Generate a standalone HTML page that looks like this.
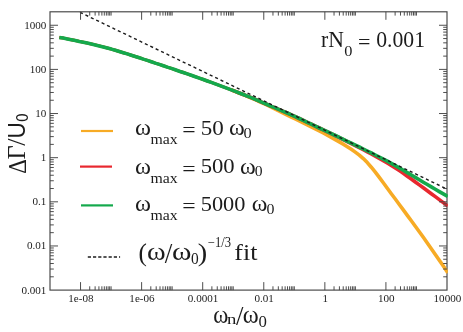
<!DOCTYPE html>
<html><head><meta charset="utf-8"><style>
html,body{margin:0;padding:0;background:#fff;}
body{width:463px;height:332px;overflow:hidden;}
svg{display:block;}
</style></head><body>
<svg width="463" height="332" viewBox="0 0 463 332">
<rect x="0" y="0" width="463" height="332" fill="#fff"/>
<rect x="50.0" y="11.8" width="397.0" height="278.3" fill="none" stroke="#454545" stroke-width="1.15"/>
<clipPath id="c"><rect x="50.0" y="11.8" width="397.8" height="278.3"/></clipPath>
<g clip-path="url(#c)">
<path d="M59.3,37.4 L63.3,38.1 L67.3,38.9 L71.3,39.7 L75.3,40.5 L79.3,41.4 L83.3,42.2 L87.3,43.1 L91.3,44.0 L95.3,44.9 L99.3,45.9 L103.3,46.9 L107.3,48.0 L111.3,49.1 L115.3,50.3 L119.3,51.5 L123.3,52.7 L127.3,53.9 L131.3,55.2 L135.3,56.5 L139.3,57.7 L143.3,59.1 L147.3,60.4 L151.3,61.7 L155.3,63.1 L159.3,64.4 L163.3,65.7 L167.3,67.1 L171.3,68.4 L175.3,69.8 L179.3,71.2 L183.3,72.5 L187.3,73.9 L191.3,75.3 L195.3,76.7 L199.3,78.1 L203.3,79.5 L207.3,81.0 L211.3,82.4 L215.3,83.9 L219.3,85.3 L223.3,86.9 L227.3,88.4 L231.3,89.9" fill="none" stroke="#f7ab25" stroke-width="3.0" stroke-linejoin="round"/><path d="M231.3,89.9 L235.3,91.5 L239.3,93.1 L243.3,94.7 L247.3,96.3 L251.3,98.0 L255.3,99.7 L259.3,101.5 L263.3,103.3 L267.3,105.2 L271.3,107.1 L275.3,109.1 L279.3,111.1 L283.3,113.1 L287.3,115.1 L291.3,117.0 L295.3,119.0 L299.3,121.0 L303.3,123.0 L307.3,124.9 L311.3,127.0 L315.3,129.0 L319.3,131.0 L323.3,133.0 L327.3,135.1 L331.3,137.3 L335.3,139.6 L339.3,141.9 L343.3,144.3 L347.3,146.7 L351.3,149.3 L355.3,152.1 L359.3,155.1 L363.3,158.6 L367.3,162.6 L371.3,167.2 L375.3,172.1 L379.3,177.4 L383.3,182.8 L387.3,188.3 L391.3,193.7 L395.3,199.0 L399.3,204.5 L403.3,209.9 L407.3,215.4 L411.3,220.8 L415.3,226.3 L419.3,231.7 L423.3,237.3 L427.3,243.0 L431.3,248.7 L435.3,254.5 L439.3,260.3 L443.3,266.1 L447.3,272.1 L447.8,272.8" fill="none" stroke="#f7ab25" stroke-width="3.6" stroke-linejoin="round"/>
<path d="M59.3,37.4 L63.3,38.1 L67.3,38.9 L71.3,39.7 L75.3,40.5 L79.3,41.4 L83.3,42.2 L87.3,43.1 L91.3,44.0 L95.3,44.9 L99.3,45.9 L103.3,46.9 L107.3,48.0 L111.3,49.1 L115.3,50.3 L119.3,51.5 L123.3,52.7 L127.3,53.9 L131.3,55.2 L135.3,56.5 L139.3,57.7 L143.3,59.1 L147.3,60.4 L151.3,61.7 L155.3,63.1 L159.3,64.4 L163.3,65.7 L167.3,67.1 L171.3,68.4 L175.3,69.8 L179.3,71.2 L183.3,72.5 L187.3,73.9 L191.3,75.3 L195.3,76.7 L199.3,78.1 L203.3,79.5 L207.3,81.0 L211.3,82.4 L215.3,83.9 L219.3,85.4 L223.3,86.9 L227.3,88.4 L231.3,89.9" fill="none" stroke="#e8282f" stroke-width="3.0" stroke-linejoin="round"/><path d="M231.3,89.9 L235.3,91.4 L239.3,93.0 L243.3,94.5 L247.3,96.1 L251.3,97.7 L255.3,99.4 L259.3,101.1 L263.3,102.8 L267.3,104.5 L271.3,106.3 L275.3,107.9 L279.3,109.6 L283.3,111.3 L287.3,113.0 L291.3,114.8 L295.3,116.6 L299.3,118.5 L303.3,120.4 L307.3,122.3 L311.3,124.2 L315.3,126.1 L319.3,128.0 L323.3,129.9 L327.3,131.8 L331.3,133.7 L335.3,135.7 L339.3,137.6 L343.3,139.6 L347.3,141.6 L351.3,143.6 L355.3,145.6 L359.3,147.6 L363.3,149.7 L367.3,151.8 L371.3,153.9 L375.3,156.1 L379.3,158.4 L383.3,160.6 L387.3,163.0 L391.3,165.5 L395.3,168.0 L399.3,170.6 L403.3,173.3 L407.3,176.2 L411.3,179.0 L415.3,182.0 L419.3,184.9 L423.3,187.8 L427.3,190.7 L431.3,193.7 L435.3,196.6 L439.3,199.6 L443.3,202.6 L447.3,205.6 L447.8,206.0" fill="none" stroke="#e8282f" stroke-width="3.6" stroke-linejoin="round"/>
<path d="M59.3,37.4 L63.3,38.1 L67.3,38.9 L71.3,39.7 L75.3,40.5 L79.3,41.4 L83.3,42.2 L87.3,43.1 L91.3,44.0 L95.3,44.9 L99.3,45.9 L103.3,46.9 L107.3,48.0 L111.3,49.1 L115.3,50.3 L119.3,51.5 L123.3,52.7 L127.3,53.9 L131.3,55.2 L135.3,56.5 L139.3,57.7 L143.3,59.1 L147.3,60.4 L151.3,61.7 L155.3,63.1 L159.3,64.4 L163.3,65.7 L167.3,67.1 L171.3,68.4 L175.3,69.8 L179.3,71.2 L183.3,72.5 L187.3,73.9 L191.3,75.3 L195.3,76.7 L199.3,78.1 L203.3,79.5 L207.3,81.0 L211.3,82.4 L215.3,83.9 L219.3,85.4 L223.3,86.9 L227.3,88.4 L231.3,89.9 L235.3,91.4 L239.3,93.0 L243.3,94.5 L247.3,96.1 L251.3,97.7 L255.3,99.4 L259.3,101.1 L263.3,102.8 L267.3,104.5 L271.3,106.3 L275.3,107.9 L279.3,109.6 L283.3,111.3 L287.3,113.0 L291.3,114.8 L295.3,116.6 L299.3,118.5 L303.3,120.4 L307.3,122.3 L311.3,124.2 L315.3,126.1 L319.3,128.0 L323.3,129.8 L327.3,131.7 L331.3,133.6 L335.3,135.5 L339.3,137.4 L343.3,139.4 L347.3,141.3 L351.3,143.2 L355.3,145.1 L359.3,147.0 L363.3,149.0 L367.3,151.0 L371.3,152.9 L375.3,155.0 L379.3,157.0 L383.3,159.1 L387.3,161.2 L391.3,163.4 L395.3,165.6 L399.3,167.9 L403.3,170.2 L407.3,172.6 L411.3,175.0 L415.3,177.4 L419.3,179.8 L423.3,182.2 L427.3,184.5 L431.3,186.9 L435.3,189.2 L439.3,191.6 L443.3,193.9 L447.3,196.2 L447.8,196.5" fill="none" stroke="#14a94c" stroke-width="3.6" stroke-linejoin="round"/>
<path d="M80,12.3 L446,188.6" stroke="#1c1c1c" stroke-width="1.4" stroke-dasharray="3.1,2.9" fill="none"/>
</g>
<path d="M80.54,290.1 v-8.0 M80.54,11.8 v8.0 M89.73,290.1 v-3.8 M89.73,11.8 v3.8 M95.11,290.1 v-3.8 M95.11,11.8 v3.8 M98.92,290.1 v-3.8 M98.92,11.8 v3.8 M101.88,290.1 v-3.8 M101.88,11.8 v3.8 M104.30,290.1 v-3.8 M104.30,11.8 v3.8 M106.35,290.1 v-3.8 M106.35,11.8 v3.8 M108.12,290.1 v-3.8 M108.12,11.8 v3.8 M109.68,290.1 v-3.8 M109.68,11.8 v3.8 M111.08,290.1 v-3.8 M111.08,11.8 v3.8 M141.62,290.1 v-8.0 M141.62,11.8 v8.0 M150.81,290.1 v-3.8 M150.81,11.8 v3.8 M156.19,290.1 v-3.8 M156.19,11.8 v3.8 M160.00,290.1 v-3.8 M160.00,11.8 v3.8 M162.96,290.1 v-3.8 M162.96,11.8 v3.8 M165.38,290.1 v-3.8 M165.38,11.8 v3.8 M167.42,290.1 v-3.8 M167.42,11.8 v3.8 M169.19,290.1 v-3.8 M169.19,11.8 v3.8 M170.76,290.1 v-3.8 M170.76,11.8 v3.8 M172.15,290.1 v-3.8 M172.15,11.8 v3.8 M202.69,290.1 v-8.0 M202.69,11.8 v8.0 M211.89,290.1 v-3.8 M211.89,11.8 v3.8 M217.26,290.1 v-3.8 M217.26,11.8 v3.8 M221.08,290.1 v-3.8 M221.08,11.8 v3.8 M224.04,290.1 v-3.8 M224.04,11.8 v3.8 M226.46,290.1 v-3.8 M226.46,11.8 v3.8 M228.50,290.1 v-3.8 M228.50,11.8 v3.8 M230.27,290.1 v-3.8 M230.27,11.8 v3.8 M231.83,290.1 v-3.8 M231.83,11.8 v3.8 M233.23,290.1 v-3.8 M233.23,11.8 v3.8 M263.77,290.1 v-8.0 M263.77,11.8 v8.0 M272.96,290.1 v-3.8 M272.96,11.8 v3.8 M278.34,290.1 v-3.8 M278.34,11.8 v3.8 M282.16,290.1 v-3.8 M282.16,11.8 v3.8 M285.11,290.1 v-3.8 M285.11,11.8 v3.8 M287.53,290.1 v-3.8 M287.53,11.8 v3.8 M289.58,290.1 v-3.8 M289.58,11.8 v3.8 M291.35,290.1 v-3.8 M291.35,11.8 v3.8 M292.91,290.1 v-3.8 M292.91,11.8 v3.8 M294.31,290.1 v-3.8 M294.31,11.8 v3.8 M324.85,290.1 v-8.0 M324.85,11.8 v8.0 M334.04,290.1 v-3.8 M334.04,11.8 v3.8 M339.42,290.1 v-3.8 M339.42,11.8 v3.8 M343.23,290.1 v-3.8 M343.23,11.8 v3.8 M346.19,290.1 v-3.8 M346.19,11.8 v3.8 M348.61,290.1 v-3.8 M348.61,11.8 v3.8 M350.65,290.1 v-3.8 M350.65,11.8 v3.8 M352.43,290.1 v-3.8 M352.43,11.8 v3.8 M353.99,290.1 v-3.8 M353.99,11.8 v3.8 M355.38,290.1 v-3.8 M355.38,11.8 v3.8 M385.92,290.1 v-8.0 M385.92,11.8 v8.0 M395.12,290.1 v-3.8 M395.12,11.8 v3.8 M400.49,290.1 v-3.8 M400.49,11.8 v3.8 M404.31,290.1 v-3.8 M404.31,11.8 v3.8 M407.27,290.1 v-3.8 M407.27,11.8 v3.8 M409.69,290.1 v-3.8 M409.69,11.8 v3.8 M411.73,290.1 v-3.8 M411.73,11.8 v3.8 M413.50,290.1 v-3.8 M413.50,11.8 v3.8 M415.06,290.1 v-3.8 M415.06,11.8 v3.8 M416.46,290.1 v-3.8 M416.46,11.8 v3.8 M50.0,276.81 h3.8 M447.0,276.81 h-3.8 M50.0,269.04 h3.8 M447.0,269.04 h-3.8 M50.0,263.53 h3.8 M447.0,263.53 h-3.8 M50.0,259.25 h3.8 M447.0,259.25 h-3.8 M50.0,255.75 h3.8 M447.0,255.75 h-3.8 M50.0,252.80 h3.8 M447.0,252.80 h-3.8 M50.0,250.24 h3.8 M447.0,250.24 h-3.8 M50.0,247.98 h3.8 M447.0,247.98 h-3.8 M50.0,245.96 h8.0 M447.0,245.96 h-8.0 M50.0,232.67 h3.8 M447.0,232.67 h-3.8 M50.0,224.90 h3.8 M447.0,224.90 h-3.8 M50.0,219.39 h3.8 M447.0,219.39 h-3.8 M50.0,215.11 h3.8 M447.0,215.11 h-3.8 M50.0,211.61 h3.8 M447.0,211.61 h-3.8 M50.0,208.66 h3.8 M447.0,208.66 h-3.8 M50.0,206.10 h3.8 M447.0,206.10 h-3.8 M50.0,203.84 h3.8 M447.0,203.84 h-3.8 M50.0,201.82 h8.0 M447.0,201.82 h-8.0 M50.0,188.53 h3.8 M447.0,188.53 h-3.8 M50.0,180.76 h3.8 M447.0,180.76 h-3.8 M50.0,175.25 h3.8 M447.0,175.25 h-3.8 M50.0,170.97 h3.8 M447.0,170.97 h-3.8 M50.0,167.47 h3.8 M447.0,167.47 h-3.8 M50.0,164.52 h3.8 M447.0,164.52 h-3.8 M50.0,161.96 h3.8 M447.0,161.96 h-3.8 M50.0,159.70 h3.8 M447.0,159.70 h-3.8 M50.0,157.68 h8.0 M447.0,157.68 h-8.0 M50.0,144.39 h3.8 M447.0,144.39 h-3.8 M50.0,136.62 h3.8 M447.0,136.62 h-3.8 M50.0,131.11 h3.8 M447.0,131.11 h-3.8 M50.0,126.83 h3.8 M447.0,126.83 h-3.8 M50.0,123.33 h3.8 M447.0,123.33 h-3.8 M50.0,120.38 h3.8 M447.0,120.38 h-3.8 M50.0,117.82 h3.8 M447.0,117.82 h-3.8 M50.0,115.56 h3.8 M447.0,115.56 h-3.8 M50.0,113.54 h8.0 M447.0,113.54 h-8.0 M50.0,100.25 h3.8 M447.0,100.25 h-3.8 M50.0,92.48 h3.8 M447.0,92.48 h-3.8 M50.0,86.97 h3.8 M447.0,86.97 h-3.8 M50.0,82.69 h3.8 M447.0,82.69 h-3.8 M50.0,79.19 h3.8 M447.0,79.19 h-3.8 M50.0,76.24 h3.8 M447.0,76.24 h-3.8 M50.0,73.68 h3.8 M447.0,73.68 h-3.8 M50.0,71.42 h3.8 M447.0,71.42 h-3.8 M50.0,69.40 h8.0 M447.0,69.40 h-8.0 M50.0,56.11 h3.8 M447.0,56.11 h-3.8 M50.0,48.34 h3.8 M447.0,48.34 h-3.8 M50.0,42.83 h3.8 M447.0,42.83 h-3.8 M50.0,38.55 h3.8 M447.0,38.55 h-3.8 M50.0,35.05 h3.8 M447.0,35.05 h-3.8 M50.0,32.10 h3.8 M447.0,32.10 h-3.8 M50.0,29.54 h3.8 M447.0,29.54 h-3.8 M50.0,27.28 h3.8 M447.0,27.28 h-3.8 M50.0,25.26 h8.0 M447.0,25.26 h-8.0" stroke="#454545" stroke-width="0.95" fill="none"/>
<path d="M81,131 H113" stroke="#f7ab25" stroke-width="2.2"/>
<path d="M80,166.6 H112" stroke="#e8282f" stroke-width="2.2"/>
<path d="M81,205.4 H113" stroke="#14a94c" stroke-width="2.2"/>
<path d="M87.8,257.0 H120.1" stroke="#1c1c1c" stroke-width="1.7" stroke-dasharray="3.2,2.0"/>
<filter id="ga" filterUnits="userSpaceOnUse" x="0" y="0" width="463" height="332"><feOffset dx="0" dy="0"/></filter><g font-family="Liberation Serif, serif" fill="#1c1c1c" filter="url(#ga)">
<text transform="translate(46.4,293.50) scale(1.08,1)" font-size="10.3" text-anchor="end">0.001</text>
<text transform="translate(46.4,249.36) scale(1.08,1)" font-size="10.3" text-anchor="end">0.01</text>
<text transform="translate(46.4,205.22) scale(1.08,1)" font-size="10.3" text-anchor="end">0.1</text>
<text transform="translate(46.4,161.08) scale(1.08,1)" font-size="10.3" text-anchor="end">1</text>
<text transform="translate(46.4,116.94) scale(1.08,1)" font-size="10.3" text-anchor="end">10</text>
<text transform="translate(46.4,72.80) scale(1.08,1)" font-size="10.3" text-anchor="end">100</text>
<text transform="translate(46.4,28.66) scale(1.08,1)" font-size="10.3" text-anchor="end">1000</text>
<text transform="translate(80.94,301.6) scale(1.08,1)" font-size="10.3" text-anchor="middle">1e-08</text>
<text transform="translate(142.02,301.6) scale(1.08,1)" font-size="10.3" text-anchor="middle">1e-06</text>
<text transform="translate(203.09,301.6) scale(1.08,1)" font-size="10.3" text-anchor="middle">0.0001</text>
<text transform="translate(264.17,301.6) scale(1.08,1)" font-size="10.3" text-anchor="middle">0.01</text>
<text transform="translate(325.25,301.6) scale(1.08,1)" font-size="10.3" text-anchor="middle">1</text>
<text transform="translate(386.32,301.6) scale(1.08,1)" font-size="10.3" text-anchor="middle">100</text>
<text transform="translate(447.40,301.6) scale(1.08,1)" font-size="10.3" text-anchor="middle">10000</text>
<text transform="translate(134.97,135.27) scale(1.067,1)" font-family="Liberation Serif" font-size="22.71">ω</text>
<text transform="translate(150.48,144.00) scale(1.042,1)" font-family="Liberation Serif" font-size="15.20">max</text>
<text transform="translate(182.35,137.00) scale(1.159,1)" font-family="Liberation Serif" font-size="20.50">=</text>
<text transform="translate(200.65,134.87) scale(1.081,1)" font-family="Liberation Serif" font-size="21.32">50</text>
<text transform="translate(228.88,135.27) scale(1.052,1)" font-family="Liberation Serif" font-size="22.71">ω</text>
<text transform="translate(243.51,137.70) scale(1.091,1)" font-family="Liberation Serif" font-size="15.00">0</text>
<text transform="translate(134.97,173.77) scale(1.067,1)" font-family="Liberation Serif" font-size="22.71">ω</text>
<text transform="translate(150.48,182.50) scale(1.042,1)" font-family="Liberation Serif" font-size="15.20">max</text>
<text transform="translate(182.35,175.50) scale(1.159,1)" font-family="Liberation Serif" font-size="20.50">=</text>
<text transform="translate(200.67,173.37) scale(1.063,1)" font-family="Liberation Serif" font-size="21.32">500</text>
<text transform="translate(239.88,173.77) scale(1.052,1)" font-family="Liberation Serif" font-size="22.71">ω</text>
<text transform="translate(254.63,176.20) scale(1.045,1)" font-family="Liberation Serif" font-size="15.00">0</text>
<text transform="translate(134.97,211.27) scale(1.067,1)" font-family="Liberation Serif" font-size="22.71">ω</text>
<text transform="translate(150.48,220.00) scale(1.042,1)" font-family="Liberation Serif" font-size="15.20">max</text>
<text transform="translate(182.35,213.00) scale(1.159,1)" font-family="Liberation Serif" font-size="20.50">=</text>
<text transform="translate(200.78,210.87) scale(1.048,1)" font-family="Liberation Serif" font-size="21.32">5000</text>
<text transform="translate(251.69,211.27) scale(1.045,1)" font-family="Liberation Serif" font-size="22.71">ω</text>
<text transform="translate(266.62,213.70) scale(1.061,1)" font-family="Liberation Serif" font-size="15.00">0</text>
<text transform="translate(138.49,261.10) scale(0.990,1)" font-family="Liberation Serif" font-size="25.43">(</text>
<text transform="translate(146.95,260.05) scale(1.123,1)" font-family="Liberation Serif" font-size="25.21">ω</text>
<text transform="translate(164.80,263.11) scale(0.923,1)" font-family="Liberation Serif" font-size="29.40">/</text>
<text transform="translate(171.92,260.05) scale(1.170,1)" font-family="Liberation Serif" font-size="25.21">ω</text>
<text transform="translate(191.04,264.16) scale(0.914,1)" font-family="Liberation Serif" font-size="16.91">0</text>
<text transform="translate(197.75,260.60) scale(1.119,1)" font-family="Liberation Serif" font-size="25.43">)</text>
<text transform="translate(207.80,247.42) scale(0.910,1)" font-family="Liberation Serif" font-size="13.82">−1/3</text>
<text transform="translate(234.32,260.06) scale(1.083,1)" font-family="Liberation Serif" font-size="24.03">fit</text>
<text transform="translate(320.97,46.87) scale(0.962,1)" font-family="Liberation Serif" font-size="22.58">rN</text>
<text transform="translate(344.31,55.59) scale(1.060,1)" font-family="Liberation Serif" font-size="15.44">0</text>
<text transform="translate(357.92,48.80) scale(1.027,1)" font-family="Liberation Serif" font-size="21.50">=</text>
<text transform="translate(376.15,46.86) scale(0.978,1)" font-family="Liberation Serif" font-size="22.21">0.001</text>
<text transform="translate(213.31,322.96) scale(0.947,1)" font-family="Liberation Serif" font-size="24.17">ω</text>
<text transform="translate(226.93,324.30) scale(1.200,1)" font-family="Liberation Serif" font-size="15.60">n</text>
<text transform="translate(235.90,324.75) scale(0.970,1)" font-family="Liberation Serif" font-size="27.61">/</text>
<text transform="translate(242.67,322.96) scale(1.003,1)" font-family="Liberation Serif" font-size="24.17">ω</text>
<text transform="translate(258.40,327.18) scale(1.049,1)" font-family="Liberation Serif" font-size="16.03">0</text>
<g transform="translate(0,173) rotate(-90)">
<text transform="translate(-0.69,25.60) scale(0.901,1)" font-family="Liberation Serif" font-size="25.45">Δ</text>
<text transform="translate(13.51,25.15) scale(0.999,1)" font-family="Liberation Serif" font-size="24.55">Γ</text>
<text transform="translate(27.20,25.38) scale(0.996,1)" font-family="Liberation Serif" font-size="25.82">/</text>
<text transform="translate(34.52,25.36) scale(0.925,1)" font-family="Liberation Sans" font-size="24.43">U</text>
<text transform="translate(51.15,27.54) scale(0.904,1)" font-family="Liberation Sans" font-size="16.48">0</text>
</g>
</g>
</svg>
</body></html>
